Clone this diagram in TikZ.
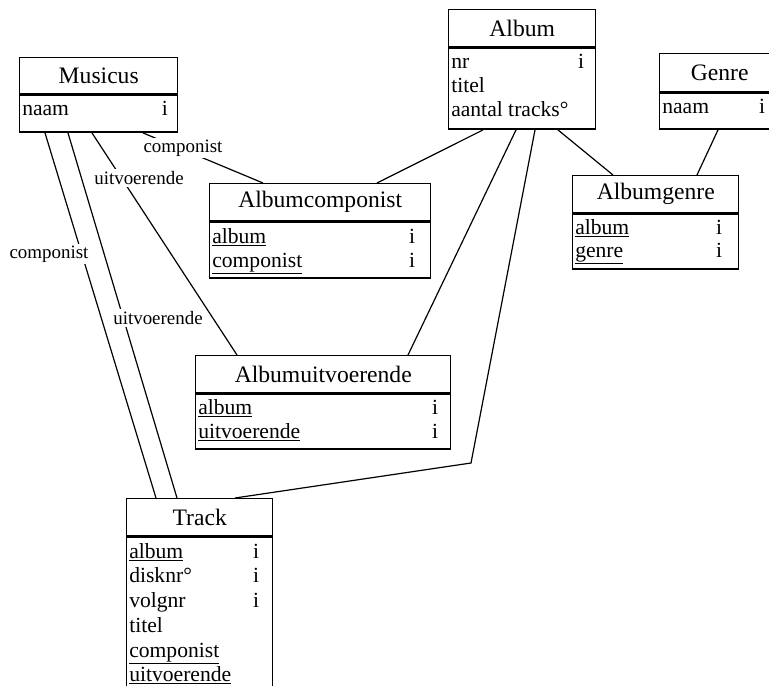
\documentclass[tikz,border=0pt]{standalone}
\usepackage{fontspec}
\setmainfont{Liberation Serif}
\begin{document}
\def\u{0.75pt}
% field text at a baseline position
\newcommand\fld[4]{\node[fld] (#1) at (#2,#3) {#4};}
% identifier mark in the right column
\newcommand\idx[3]{\node[idx] (#1) at (#2,#3) {i};}
\begin{tikzpicture}[x=0.75pt,y=-0.75pt,
  box/.style={draw, line width=1.1pt, rectangle, inner sep=0pt, anchor=north west},
  hdr/.style={box, font=\fontsize{17.7}{21}\selectfont},
  fld/.style={anchor=base west, inner sep=0pt, font=\fontsize{16.2}{19}\selectfont},
  idx/.style={fld, anchor=base},
  link/.style={line width=0.9pt},
  lbl/.style={fill=white, inner sep=1.5pt, font=\fontsize{14.2}{17}\selectfont}]
\useasboundingbox (0,0) rectangle (769,686);
\clip (0,0) rectangle (769,686);

% ---------- entities ----------
% Musicus
\node[hdr, minimum width=158*\u, minimum height=36*\u] (musH) at (19,57) {Musicus};
\node[box, minimum width=158*\u, minimum height=37*\u] (musB) at (musH.south west) {};
\fld{musF1}{22}{115}{naam}
\idx{musI1}{165}{115}

% Album
\node[hdr, minimum width=147*\u, minimum height=37*\u] (albH) at (448,9) {Album};
\node[box, minimum width=147*\u, minimum height=81*\u] (albB) at (albH.south west) {};
\fld{albF1}{451}{68}{nr}
\idx{albI1}{581}{68}
\fld{albF2}{451}{92}{titel}
\fld{albF3}{451}{116}{aantal tracks°}

% Genre
\node[hdr, minimum width=120*\u, minimum height=38*\u, text width=105*\u, align=center] (genH) at (659,53) {Genre};
\node[box, minimum width=120*\u, minimum height=36*\u] (genB) at (genH.south west) {};
\fld{genF1}{662}{113}{naam}
\idx{genI1}{762}{113}

% Albumgenre
\node[hdr, minimum width=166*\u, minimum height=37*\u] (agH) at (572,175) {Albumgenre};
\node[box, minimum width=166*\u, minimum height=55*\u] (agB) at (agH.south west) {};
\fld{agF1}{575}{234}{\underline{album}}
\idx{agI1}{719}{234}
\fld{agF2}{575}{257}{\underline{genre}}
\idx{agI2}{719}{257}

% Albumcomponist
\node[hdr, minimum width=221*\u, minimum height=37*\u] (acH) at (209,183) {Albumcomponist};
\node[box, minimum width=221*\u, minimum height=56*\u] (acB) at (acH.south west) {};
\fld{acF1}{212}{243}{\underline{album}}
\idx{acI1}{412}{243}
\fld{acF2}{212}{267}{\underline{componist}}
\idx{acI2}{412}{267}

% Albumuitvoerende
\node[hdr, minimum width=255*\u, minimum height=37*\u] (auH) at (195,355) {Albumuitvoerende};
\node[box, minimum width=255*\u, minimum height=55*\u] (auB) at (auH.south west) {};
\fld{auF1}{198}{414}{\underline{album}}
\idx{auI1}{435}{414}
\fld{auF2}{198}{438}{\underline{uitvoerende}}
\idx{auI2}{435}{438}

% Track
\node[hdr, minimum width=146*\u, minimum height=37*\u] (trH) at (126,498) {Track};
\node[box, minimum width=146*\u, minimum height=170*\u] (trB) at (trH.south west) {};
\fld{trF1}{129}{558}{\underline{album}}
\idx{trI1}{256}{558}
\fld{trF2}{129}{582}{disknr°}
\idx{trI2}{256}{582}
\fld{trF3}{129}{607}{volgnr}
\idx{trI3}{256}{607}
\fld{trF4}{129}{632}{titel}
\fld{trF5}{129}{657}{\underline{componist}}
\fld{trF6}{129}{681}{\underline{uitvoerende}}

% ---------- relationships ----------
\coordinate (bend) at (471,463);
\draw[link] ([xshift=124*\u]musB.south west) -- ([xshift=54*\u]acH.north west);
\draw[link] ([xshift=73*\u]musB.south west) -- ([xshift=42*\u]auH.north west);
\draw[link] ([xshift=26*\u]musB.south west) -- ([xshift=30*\u]trH.north west);
\draw[link] ([xshift=49*\u]musB.south west) -- ([xshift=51*\u]trH.north west);
\draw[link] ([xshift=35*\u]albB.south west) -- ([xshift=168*\u]acH.north west);
\draw[link] ([xshift=68*\u]albB.south west) -- ([xshift=213*\u]auH.north west);
\draw[link] ([xshift=87*\u]albB.south west) -- (bend) -- ([xshift=109*\u]trH.north west);
\draw[link] ([xshift=110*\u]albB.south west) -- ([xshift=41*\u]agH.north west);
\draw[link] ([xshift=59*\u]genB.south west) -- ([xshift=125*\u]agH.north west);

% role names
\node[lbl] (lblMA) at (183,148) {componist};
\node[lbl] (lblMU) at (139,178) {uitvoerende};
\node[lbl] (lblTC) at (49,254) {componist};
\node[lbl] (lblTU) at (158,318) {uitvoerende};
\end{tikzpicture}
\end{document}
